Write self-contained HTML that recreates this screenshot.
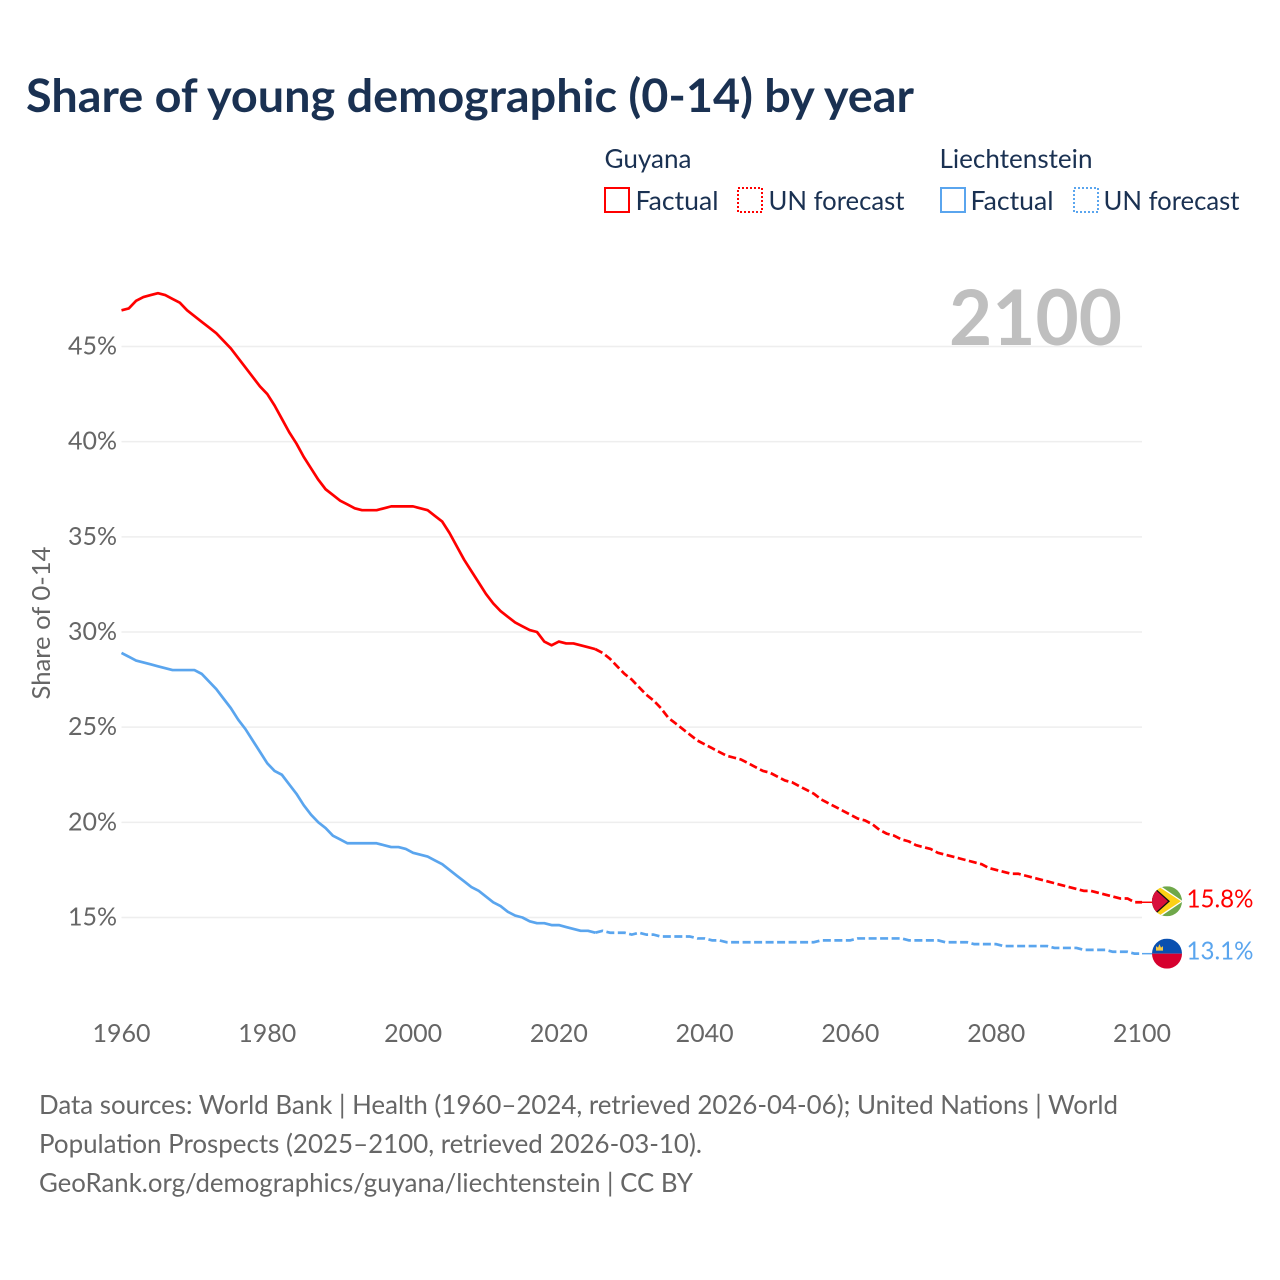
<!DOCTYPE html>
<html lang="en">
<head>
<meta charset="utf-8">
<title>Share of young demographic (0-14) by year</title>
<style>
html,body{margin:0;padding:0;background:#fff;width:1280px;height:1280px;overflow:hidden}
svg{display:block}
text{font-family:"Lato","Carlito","Liberation Sans",sans-serif}
</style>
</head>
<body>
<svg id="chart" xmlns="http://www.w3.org/2000/svg" width="1280" height="1280" viewBox="0 0 1280 1280">
  <text x="26" y="112" font-size="46" font-weight="700" fill="#1a3152" textLength="888" lengthAdjust="spacingAndGlyphs">Share of young demographic (0-14) by year</text>

  <g font-size="26" fill="#1a3152">
    <text x="604.500" y="168" textLength="87" lengthAdjust="spacingAndGlyphs">Guyana</text>
    <rect x="605" y="188" width="24" height="24" fill="none" stroke="#ff0000" stroke-width="2"/>
    <text x="635.500" y="210" textLength="83" lengthAdjust="spacingAndGlyphs">Factual</text>
    <rect x="738" y="188" width="24" height="24" fill="none" stroke="#ff0000" stroke-width="2" stroke-dasharray="2 2"/>
    <text x="768.500" y="210" textLength="136" lengthAdjust="spacingAndGlyphs">UN forecast</text>
    <text x="939.500" y="168" textLength="153" lengthAdjust="spacingAndGlyphs">Liechtenstein</text>
    <rect x="941" y="188" width="24" height="24" fill="none" stroke="#5aa5ee" stroke-width="2"/>
    <text x="970.500" y="210" textLength="83" lengthAdjust="spacingAndGlyphs">Factual</text>
    <rect x="1074" y="188" width="24" height="24" fill="none" stroke="#5aa5ee" stroke-width="2" stroke-dasharray="2 2"/>
    <text x="1103.500" y="210" textLength="136" lengthAdjust="spacingAndGlyphs">UN forecast</text>
  </g>

  <g id="grid"></g>
  <text x="949" y="345" font-size="77" font-weight="700" fill="#bfbfbf" textLength="173" lengthAdjust="spacingAndGlyphs">2100</text>
  <g id="yticks" font-size="25" fill="#666666" text-anchor="end"></g>
  <g id="xticks" font-size="25" fill="#666666" text-anchor="middle"></g>
  <text transform="translate(50,623) rotate(-90)" font-size="25" fill="#666666" text-anchor="middle" textLength="153" lengthAdjust="spacingAndGlyphs">Share of 0-14</text>
  <g id="series" fill="none" stroke-linejoin="round"></g>

  <defs>
    <clipPath id="flagClip"><circle cx="0" cy="0" r="15"/></clipPath>
  </defs>
  <g id="flagGuyana" clip-path="url(#flagClip)">
    <rect x="-15" y="-15" width="30" height="30" fill="#6fa84a"/>
    <polygon points="-15,-21 16,0 -15,21" fill="#fff"/>
    <polygon points="-15,-19 14,0 -15,19" fill="#fcd116"/>
    <polygon points="-15,-16 3,0 -15,16" fill="#111"/>
    <polygon points="-15,-14.400 1,0 -15,14.400" fill="#d80f3c"/>
  </g>
  <g id="flagLiecht" clip-path="url(#flagClip)">
    <rect x="-15" y="-15" width="30" height="15" fill="#0a50b0"/>
    <rect x="-15" y="0" width="30" height="15" fill="#d6002e"/>
    <path d="M-11,-3 L-11,-7.500 L-9,-6 L-7.500,-9.500 L-6,-6 L-4,-7.500 L-4,-3 Z" fill="#f5c842"/>
  </g>
  <text id="labelGuyana" x="1186.500" font-size="25" fill="#ff0000" textLength="67" lengthAdjust="spacingAndGlyphs"></text>
  <text id="labelLiecht" x="1186.500" font-size="25" fill="#5aa5ee" textLength="67" lengthAdjust="spacingAndGlyphs"></text>

  <g font-size="26" fill="#666666">
    <text x="39" y="1114" textLength="1079" lengthAdjust="spacingAndGlyphs">Data sources: World Bank | Health (1960–2024, retrieved 2026-04-06); United Nations | World</text>
    <text x="39" y="1153" textLength="663" lengthAdjust="spacingAndGlyphs">Population Prospects (2025–2100, retrieved 2026-03-10).</text>
    <text x="39" y="1192" textLength="654" lengthAdjust="spacingAndGlyphs">GeoRank.org/demographics/guyana/liechtenstein | CC BY</text>
  </g>
</svg>
<script>
const factualStartYear = 1960;
const forecastStartYear = 2025;
const yTickValues = [15, 20, 25, 30, 35, 40, 45];
const xTickValues = [1960, 1980, 2000, 2020, 2040, 2060, 2080, 2100];
const guyanaFactual = [
46.9,47.0,47.4,47.6,47.7,47.8,47.7,47.5,47.3,46.9,
46.6,46.3,46.0,45.7,45.3,44.9,44.4,43.9,43.4,42.9,
42.5,41.9,41.2,40.5,39.9,39.2,38.6,38.0,37.5,37.2,
36.9,36.7,36.5,36.4,36.4,36.4,36.5,36.6,36.6,36.6,
36.6,36.5,36.4,36.1,35.8,35.2,34.5,33.8,33.2,32.6,
32.0,31.5,31.1,30.8,30.5,30.3,30.1,30.0,29.5,29.3,
29.5,29.4,29.4,29.3,29.2,29.1];
const guyanaForecast = [
29.1,28.9,28.6,28.2,27.8,27.5,27.1,26.7,26.4,26.0,
25.5,25.2,24.9,24.6,24.3,24.1,23.9,23.7,23.5,23.4,
23.3,23.1,22.9,22.7,22.6,22.4,22.2,22.1,21.9,21.7,
21.5,21.2,21.0,20.8,20.6,20.4,20.2,20.1,19.9,19.6,
19.4,19.3,19.1,19.0,18.8,18.7,18.6,18.4,18.3,18.2,
18.1,18.0,17.9,17.8,17.6,17.5,17.4,17.3,17.3,17.2,
17.1,17.0,16.9,16.8,16.7,16.6,16.5,16.4,16.4,16.3,
16.2,16.1,16.0,16.0,15.8,15.8];
const liechtensteinFactual = [
28.9,28.7,28.5,28.4,28.3,28.2,28.1,28.0,28.0,28.0,
28.0,27.8,27.4,27.0,26.5,26.0,25.4,24.9,24.3,23.7,
23.1,22.7,22.5,22.0,21.5,20.9,20.4,20.0,19.7,19.3,
19.1,18.9,18.9,18.9,18.9,18.9,18.8,18.7,18.7,18.6,
18.4,18.3,18.2,18.0,17.8,17.5,17.2,16.9,16.6,16.4,
16.1,15.8,15.6,15.3,15.1,15.0,14.8,14.7,14.7,14.6,
14.6,14.5,14.4,14.3,14.3,14.2];
const liechtensteinForecast = [
14.2,14.3,14.2,14.2,14.2,14.1,14.2,14.1,14.1,14.0,
14.0,14.0,14.0,14.0,13.9,13.9,13.8,13.8,13.7,13.7,
13.7,13.7,13.7,13.7,13.7,13.7,13.7,13.7,13.7,13.7,
13.7,13.8,13.8,13.8,13.8,13.8,13.9,13.9,13.9,13.9,
13.9,13.9,13.9,13.8,13.8,13.8,13.8,13.8,13.7,13.7,
13.7,13.7,13.6,13.6,13.6,13.6,13.5,13.5,13.5,13.5,
13.5,13.5,13.5,13.4,13.4,13.4,13.4,13.3,13.3,13.3,
13.3,13.2,13.2,13.2,13.1,13.1];

const SVGNS = 'http://www.w3.org/2000/svg';
function xScale(year){ return 121.5 + (year - 1960) * (1142 - 121.5) / 140; }
function yScale(v){ return 917.5 - (v - 15) * (917.5 - 346.5) / 30; }
function linePath(values, startYear){
  return values.map(function(v, i){
    return (i ? 'L' : 'M') + xScale(startYear + i).toFixed(2) + ',' + yScale(v).toFixed(2);
  }).join(' ');
}

const grid = document.getElementById('grid');
const yticks = document.getElementById('yticks');
yTickValues.forEach(function(v){
  const g = document.createElementNS(SVGNS, 'line');
  
  
  g.setAttribute('x1', xScale(1960));
  g.setAttribute('x2', xScale(2100));
  g.setAttribute('y1', yScale(v));
  g.setAttribute('y2', yScale(v));
  g.setAttribute('stroke', '#eeeeee');
  g.setAttribute('stroke-width', '1.5');
  grid.appendChild(g);
  const t = document.createElementNS(SVGNS, 'text');
  
  
  t.setAttribute('x', 117);
  t.setAttribute('y', yScale(v) + 8);
  t.textContent = v + '%';
  yticks.appendChild(t);
});

const xticks = document.getElementById('xticks');
xTickValues.forEach(function(y){
  const t = document.createElementNS(SVGNS, 'text');
  
  
  t.setAttribute('x', xScale(y));
  t.setAttribute('y', 1042);
  t.textContent = y;
  xticks.appendChild(t);
});

const series = document.getElementById('series');
function addFactual(values, color, name){
  const p = document.createElementNS(SVGNS, 'path');
  
  
  p.setAttribute('d', linePath(values, factualStartYear));
  p.setAttribute('stroke', color);
  p.setAttribute('stroke-width', '2.7');
  series.appendChild(p);
}
function addForecast(values, color, name){
  const p = document.createElementNS(SVGNS, 'path');
  
  
  p.setAttribute('d', linePath(values, forecastStartYear));
  p.setAttribute('stroke', color);
  p.setAttribute('stroke-width', '2.7');
  p.setAttribute('stroke-dasharray', '8 3.5');
  series.appendChild(p);
}
function addConnector(value, color, name){
  const c = document.createElementNS(SVGNS, 'line');
  
  
  c.setAttribute('x1', xScale(2100));
  c.setAttribute('x2', xScale(2100) + 10);
  c.setAttribute('y1', yScale(value));
  c.setAttribute('y2', yScale(value));
  c.setAttribute('stroke', color);
  c.setAttribute('stroke-width', '1.5');
  series.appendChild(c);
}
addFactual(guyanaFactual, '#ff0000', 'guyana-factual-line');
addForecast(guyanaForecast, '#ff0000', 'guyana-forecast-line');
addFactual(liechtensteinFactual, '#5aa5ee', 'liechtenstein-factual-line');
addForecast(liechtensteinForecast, '#5aa5ee', 'liechtenstein-forecast-line');

const gEnd = guyanaForecast[guyanaForecast.length - 1];
const lEnd = liechtensteinForecast[liechtensteinForecast.length - 1];
addConnector(gEnd, '#ff0000', 'guyana-end-connector');
addConnector(lEnd, '#5aa5ee', 'liechtenstein-end-connector');
const flagX = xScale(2100) + 25;
document.getElementById('flagGuyana').setAttribute('transform', 'translate(' + flagX + ',' + (yScale(gEnd) - 1) + ')');
document.getElementById('flagLiecht').setAttribute('transform', 'translate(' + flagX + ',' + yScale(lEnd) + ')');
const lg = document.getElementById('labelGuyana');
lg.setAttribute('y', yScale(gEnd) + 5);
lg.textContent = gEnd.toFixed(1) + '%';
const ll = document.getElementById('labelLiecht');
ll.setAttribute('y', yScale(lEnd) + 6);
ll.textContent = lEnd.toFixed(1) + '%';
</script>
</body>
</html>
